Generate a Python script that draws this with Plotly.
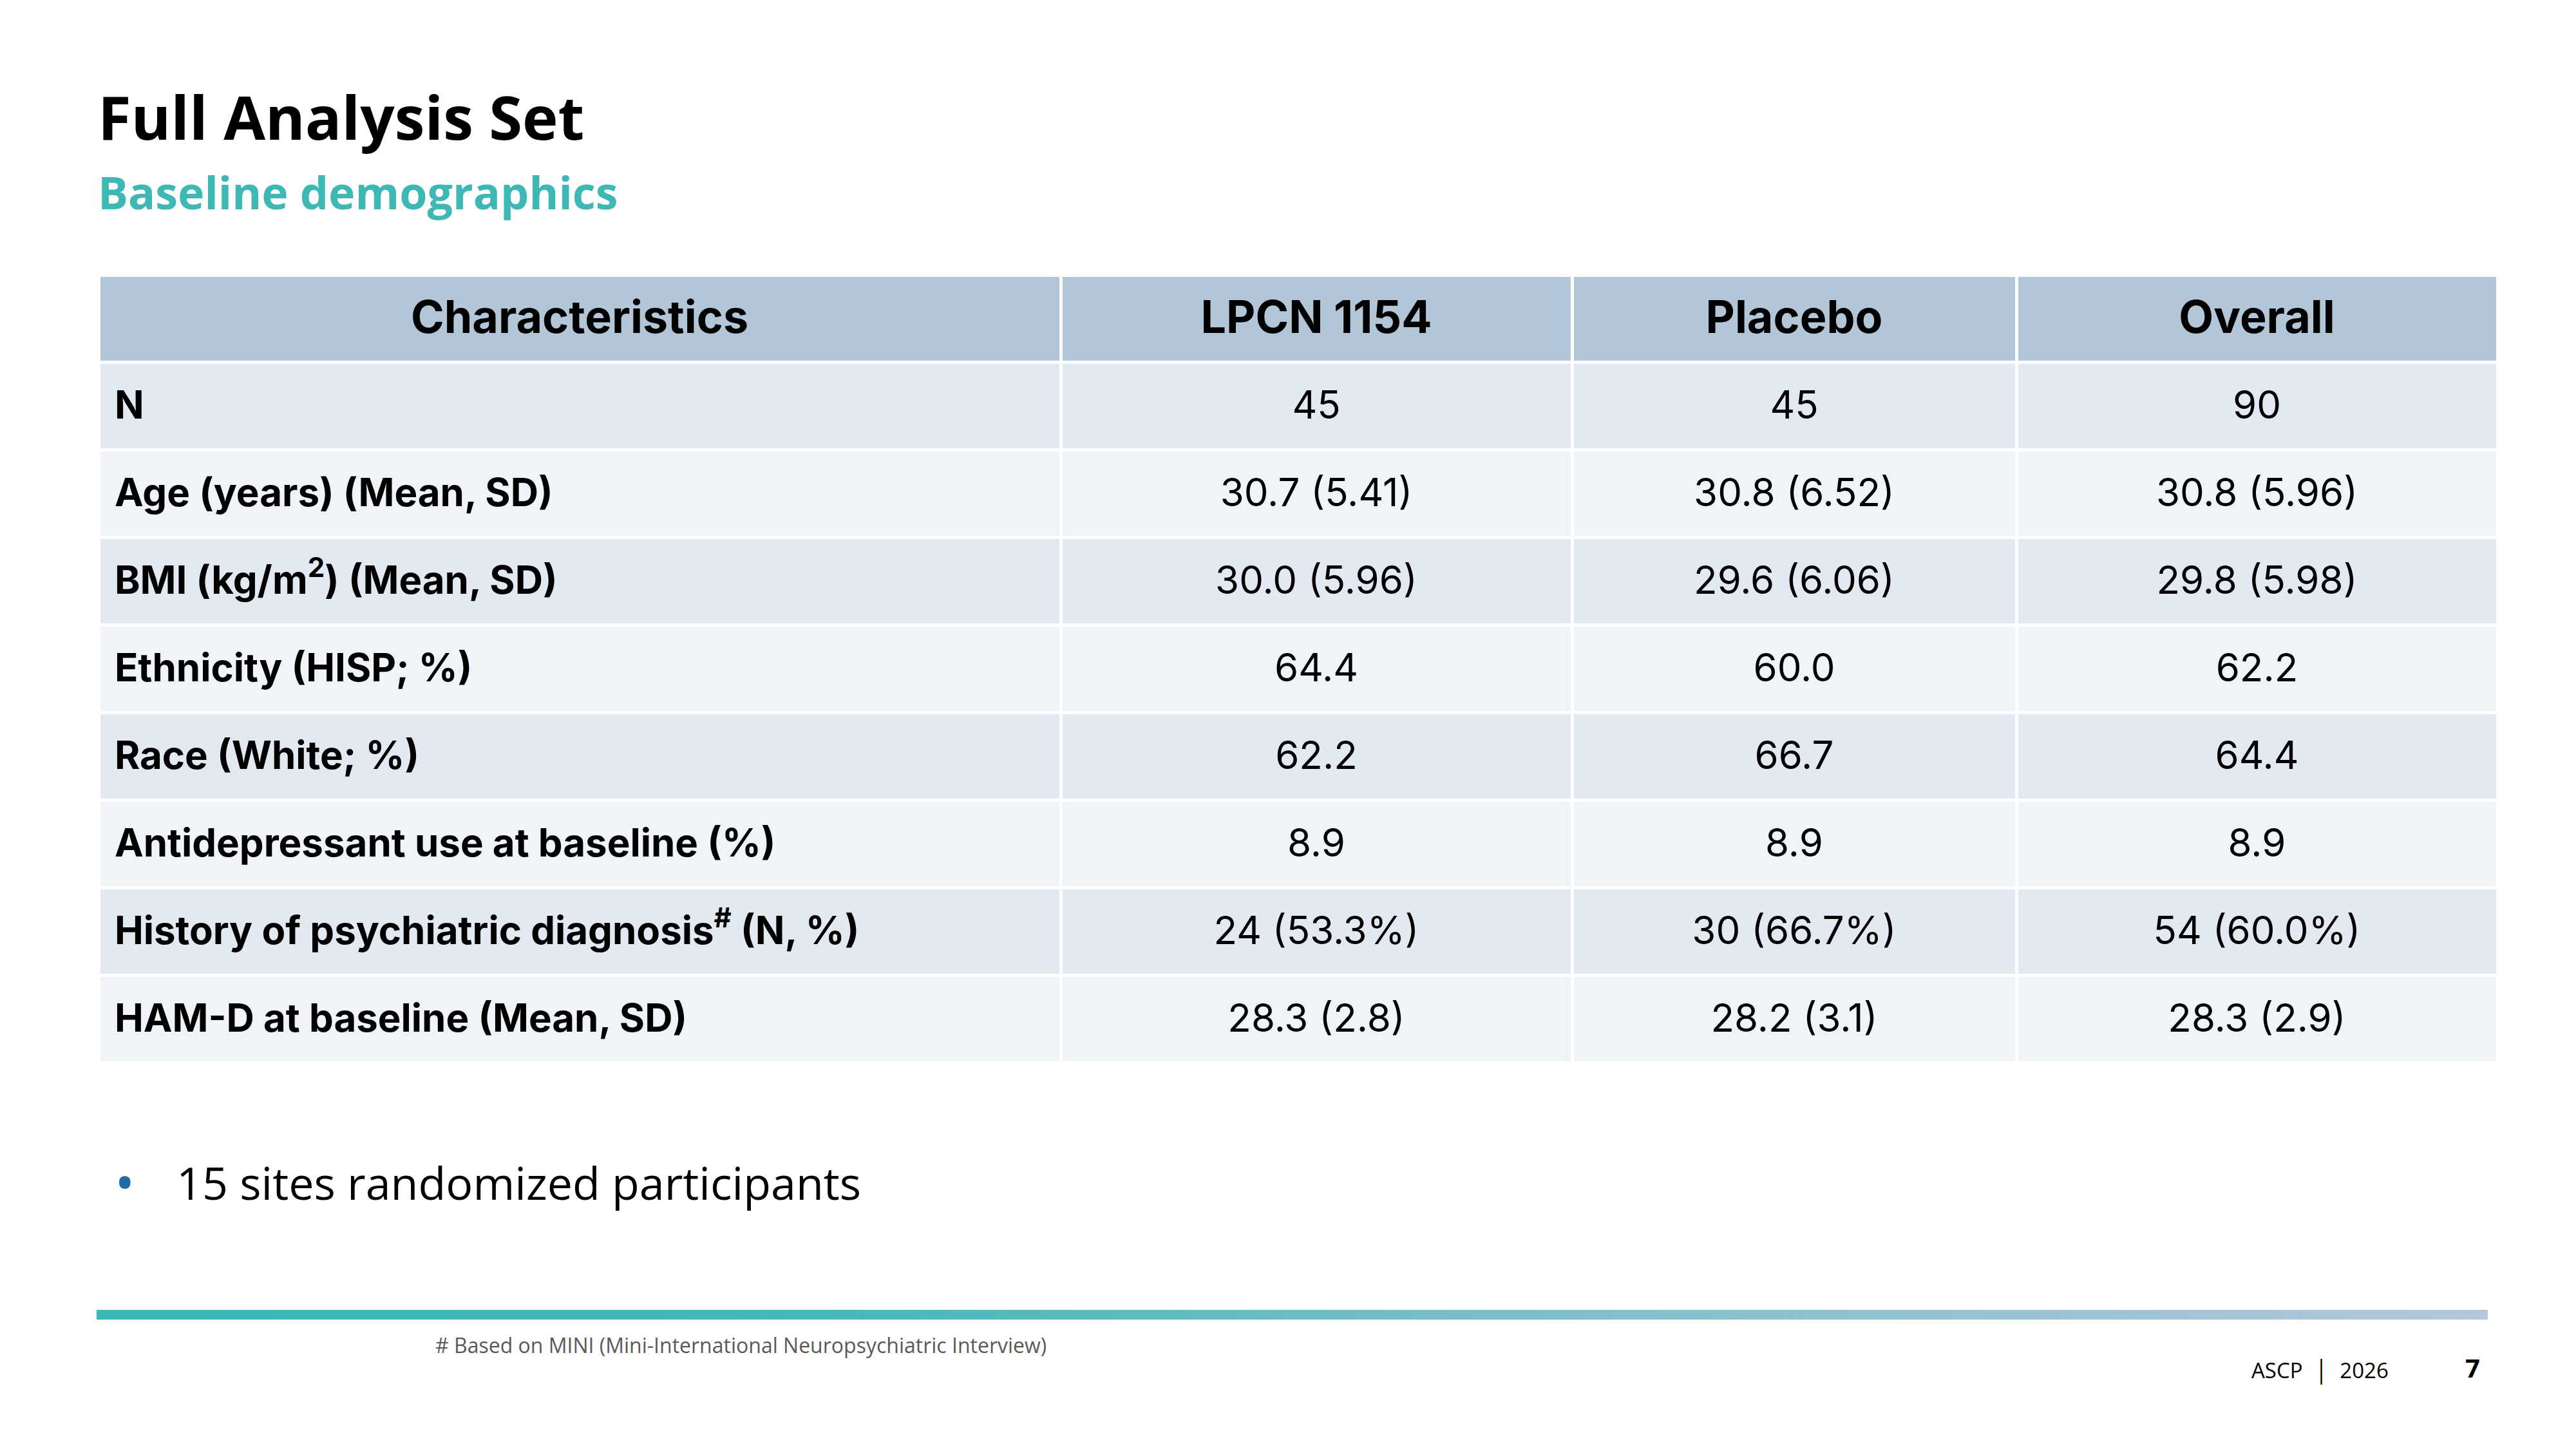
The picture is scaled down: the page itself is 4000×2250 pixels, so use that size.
import plotly.graph_objects as go

# table content
columns = ["Characteristics", "LPCN 1154", "Placebo", "Overall"]
characteristics = [
    "N",
    "Age (years) (Mean, SD)",
    "BMI (kg/m<sup>2</sup>) (Mean, SD)",
    "Ethnicity (HISP; %)",
    "Race (White; %)",
    "Antidepressant use at baseline (%)",
    "History of psychiatric diagnosis<sup>#</sup> (N, %)",
    "HAM-D at baseline (Mean, SD)",
]
lpcn_1154 = ["45", "30.7 (5.41)", "30.0 (5.96)", "64.4", "62.2", "8.9", "24 (53.3%)", "28.3 (2.8)"]
placebo = ["45", "30.8 (6.52)", "29.6 (6.06)", "60.0", "66.7", "8.9", "30 (66.7%)", "28.2 (3.1)"]
overall = ["90", "30.8 (5.96)", "29.8 (5.98)", "62.2", "64.4", "8.9", "54 (60.0%)", "28.3 (2.9)"]

W, H = 4000, 2250
OFF = 8  # the page body margin
TABLE_FONT = "Inter"
SLIDE_FONT = "Open Sans"

def px(x):
    return (x - OFF) / W

def py(y):
    return 1 - (y - OFF) / H

# table cells are top aligned: a blank first line (its height set by the
# trace font size) pushes the real text, sized with a span, to the middle
def cell(text, size, bold=False, indent=False):
    if bold:
        text = "<b>%s</b>" % text
    if indent:
        text = "\u00a0" + text
    return "\u00a0<br><span style='font-size:%dpx'>%s</span>" % (size, text)

row_fill = ["#E3E9F1" if i % 2 == 0 else "#F0F4F8" for i in range(len(characteristics))]

fig = go.Figure()
fig.add_trace(go.Table(
    domain=dict(x=[px(153), px(3878)], y=[py(1950), py(427)]),
    columnwidth=[1494, 794, 690, 747],
    header=dict(
        values=[cell(c, 70, bold=True) for c in columns],
        fill_color="#B3C6D7",
        line=dict(color="white", width=5),
        align="center",
        height=135,
        font=dict(family=TABLE_FONT, size=36, color="black"),
    ),
    cells=dict(
        values=[[cell(c, 60, bold=True, indent=True) for c in characteristics],
                [cell(v, 60) for v in lpcn_1154],
                [cell(v, 60) for v in placebo],
                [cell(v, 60) for v in overall]],
        fill_color=[row_fill] * 4,
        line=dict(color="white", width=5),
        align=["left", "center", "center", "center"],
        height=136,
        font=dict(family=TABLE_FONT, size=35, color="black"),
    ),
))

annotations = [
    dict(x=px(150), y=py(181), text="<b>Full Analysis Set</b>",
         font=dict(family=SLIDE_FONT, size=94, color="black")),
    dict(x=px(150), y=py(298), text="<b>Baseline demographics</b>",
         font=dict(family=SLIDE_FONT, size=70, color="#3DB8B5")),
    dict(x=px(176), y=py(1834), text="•",
         font=dict(family=SLIDE_FONT, size=84, color="#1F6BA5")),
    dict(x=px(272), y=py(1836), text="15 sites randomized participants",
         font=dict(family=SLIDE_FONT, size=70, color="black")),
    dict(x=px(674), y=py(2088), text="# Based on MINI (Mini-International Neuropsychiatric Interview)",
         font=dict(family=SLIDE_FONT, size=32, color="#595959")),
    dict(x=px(3494), y=py(2127), text="ASCP  │  2026",
         font=dict(family=SLIDE_FONT, size=33, color="black")),
    dict(x=px(3826), y=py(2123), text="<b>7</b>",
         font=dict(family=SLIDE_FONT, size=40, color="black")),
]
for a in annotations:
    a.update(xref="paper", yref="paper", xanchor="left", yanchor="middle", showarrow=False)

# gradient rule above the footer
stops = [(0.0, (59, 183, 180)), (0.3, (66, 185, 183)), (0.6, (125, 191, 201)), (1.0, (181, 199, 218))]

def grad(t):
    for (t0, c0), (t1, c1) in zip(stops[:-1], stops[1:]):
        if t <= t1:
            f = (t - t0) / (t1 - t0)
            return "rgb(%d,%d,%d)" % tuple(round(a + (b - a) * f) for a, b in zip(c0, c1))
    return "rgb(%d,%d,%d)" % stops[-1][1]

shapes = []
x_start, x_end, n_seg = 150, 3862, 240
seg = (x_end - x_start) / n_seg
for i in range(n_seg):
    shapes.append(dict(
        type="rect", xref="paper", yref="paper",
        x0=px(x_start + i * seg), x1=px(x_start + (i + 1) * seg + 1),
        y0=py(2049), y1=py(2034),
        fillcolor=grad((i + 0.5) / n_seg), line=dict(width=0), layer="above",
    ))

fig.update_layout(
    width=W, height=H,
    margin=dict(l=0, r=0, t=0, b=0),
    paper_bgcolor="white", plot_bgcolor="white",
    annotations=annotations, shapes=shapes,
    showlegend=False,
)

fig.write_html("out.html", config={"displayModeBar": False})
